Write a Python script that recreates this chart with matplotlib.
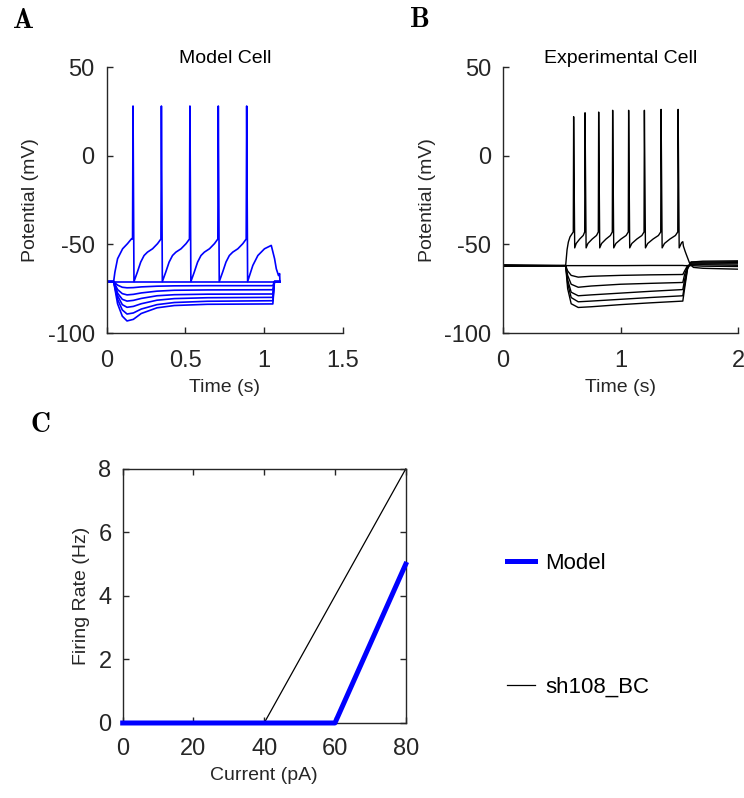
import matplotlib.pyplot as plt
import numpy as np

plt.rcParams['font.family'] = ['Liberation Sans', 'DejaVu Sans']
plt.rcParams['axes.unicode_minus'] = False

# ---------------- panel A : model cell ----------------
model_rest = -71
model_spike_times = [0.165, 0.345, 0.526, 0.706, 0.886]
model_spike_peaks = [28, 28, 28, 28, 28]
model_reset_v = -71
# membrane between reset and next spike (fraction of interval, mV)
model_isi_phase = [0, 0.125, 0.25, 0.375, 0.5, 0.69, 0.875, 1.0]
model_isi_v = [-71, -65.7, -60, -56.3, -54.4, -52.5, -49.6, -47]
# onset of the step up to the first spike
model_first_t = [0, 0.045, 0.053, 0.07, 0.102, 0.133, 0.159, 0.165]
model_first_v = [-71, -71, -65.7, -58.1, -52.5, -49.6, -46.8, -47]
# after the last spike until the end of the sweep
model_tail_t = [0.928, 0.96, 1.002, 1.045, 1.066, 1.077, 1.091, 1.098, 1.1]
model_tail_v = [-61.9, -56.3, -52.5, -50.6, -58.1, -63.8, -67.6, -66.5, -71]

model_hyp_t = [0, 0.045, 0.07, 0.10, 0.13, 0.17, 0.22, 0.32, 0.43, 0.64, 1.055, 1.065, 1.1]
model_hyp_v = [
    [-71, -71, -73.0, -74.2, -74.5, -74.4, -74.0, -73.6, -73.4, -73.3, -73.3, -71, -71],
    [-71, -71, -75.5, -77.8, -78.5, -78.2, -77.4, -76.4, -75.9, -75.7, -75.6, -71, -71],
    [-71, -71, -77.5, -81.0, -82.0, -81.6, -80.5, -79.0, -78.4, -78.1, -78.0, -71, -71],
    [-71, -71, -79.0, -84.0, -85.5, -85.0, -83.5, -81.5, -80.6, -80.1, -79.9, -71, -71],
    [-71, -71, -81.0, -87.0, -89.3, -88.7, -86.5, -84.0, -82.8, -82.1, -81.8, -71, -71],
    [-71, -71, -83.5, -90.5, -93.2, -92.3, -89.0, -85.8, -84.5, -83.8, -83.6, -71, -71],
]
model_flat_t = [0, 1.1]
model_flat_v = [-71, -71]

# ---------------- panel B : experimental cell ----------------
exp_spike_times = [0.598, 0.695, 0.811, 0.930, 1.066, 1.200, 1.342, 1.487]
exp_spike_peaks = [22, 24.2, 24.6, 25.6, 25.6, 25.6, 26.1, 26.1]
exp_reset_v = -52
exp_isi_phase = [0, 0.15, 0.5, 0.85, 1.0]
exp_isi_v = [-52, -49.5, -47, -45, -43]
exp_first_t = [0, 0.3, 0.533, 0.545, 0.556, 0.57, 0.598]
exp_first_v = [-61.8, -62.2, -62, -53, -48.7, -45.8, -43]
exp_tail_t = [1.52, 1.53, 1.535, 1.55, 1.563, 1.59, 1.62, 1.7, 2.0]
exp_tail_v = [-49, -48.5, -51, -54, -56.3, -61, -63, -63.5, -64]

exp_hyp_t = [0, 0.533, 0.55, 0.58, 0.64, 0.75, 1.0, 1.25, 1.53, 1.545, 1.57, 1.6, 1.7, 2.0]
exp_hyp_v = [
    [-61.8, -62, -62, -62, -62, -62, -62, -61.9, -61.9, -62, -62, -62, -62.3, -62.5],
    [-62.2, -62, -65, -67.5, -68.5, -68, -67.5, -67.2, -67, -65, -62, -61.5, -61.5, -61.8],
    [-61.6, -62, -67.5, -72.5, -74.2, -73.5, -72.5, -72, -71.5, -67, -62.5, -61, -61, -61],
    [-62.4, -62, -70, -77, -79, -78.5, -77.5, -76.5, -75.5, -70, -63, -60.5, -60.5, -60.3],
    [-61.9, -62, -72, -80, -82.4, -82, -81, -80, -79, -73, -63.5, -60, -60, -59.8],
    [-62.1, -62, -75, -83.5, -85.6, -85.2, -84, -83, -82, -75, -64, -60, -59.5, -59.3],
]

# ---------------- panel C : f-I curve ----------------
current_pA = [0, 20, 40, 60, 80]
rate_model = [0, 0, 0, 0, 5]
rate_exp = [0, 0, 0, 4, 8]


def spiking_trace(first_t, first_v, spikes, peaks, reset_v, reset_dt,
                  isi_phase, isi_v, tail_t, tail_v):
    t = list(first_t)
    v = list(first_v)
    for i, ts in enumerate(spikes):
        t += [ts + 0.003, ts + reset_dt]
        v += [peaks[i], reset_v]
        if i + 1 < len(spikes):
            t0 = ts + reset_dt
            t1 = spikes[i + 1]
            t += [t0 + p * (t1 - t0) for p in isi_phase[1:]]
            v += isi_v[1:]
    t += tail_t
    v += tail_v
    return t, v


ink = '#262626'
tick_fs = 17
label_fs = 14

fig = plt.figure(figsize=(7.44, 7.98), dpi=100)


def style_axes(ax, box=False):
    for side in ['left', 'bottom', 'top', 'right']:
        ax.spines[side].set_color(ink)
        ax.spines[side].set_linewidth(1.0)
    if not box:
        ax.spines['top'].set_visible(False)
        ax.spines['right'].set_visible(False)
    ax.tick_params(direction='in', length=4, width=1.0, color=ink,
                   labelcolor=ink, labelsize=tick_fs,
                   top=box, right=box)
    ax.tick_params(axis='x', pad=12)
    ax.tick_params(axis='y', pad=8.5)


# A
axA = fig.add_axes([0.1432, 0.5827, 0.3178, 0.3333])
for vv in model_hyp_v:
    axA.plot(model_hyp_t, vv, color='#0000ff', lw=1.2)
axA.plot(model_flat_t, model_flat_v, color='#0000ff', lw=1.2)
st, sv = spiking_trace(model_first_t, model_first_v, model_spike_times,
                       model_spike_peaks, model_reset_v, 0.009,
                       model_isi_phase, model_isi_v, model_tail_t, model_tail_v)
axA.plot(st, sv, color='#0000ff', lw=1.2)
axA.set_xlim(0, 1.5)
axA.set_ylim(-100, 50)
axA.set_xticks([0, 0.5, 1, 1.5])
axA.set_xticklabels(['0', '0.5', '1', '1.5'])
axA.set_yticks([-100, -50, 0, 50])
style_axes(axA)
axA.set_xlabel('Time (s)', fontsize=label_fs, color=ink, labelpad=5)
axA.set_ylabel('Potential (mV)', fontsize=label_fs, color=ink, labelpad=6)
axA.set_title('Model Cell', fontsize=label_fs, color='black', pad=1)

# B
axB = fig.add_axes([0.6761, 0.5827, 0.3159, 0.3333])
for vv in exp_hyp_v:
    axB.plot(exp_hyp_t, vv, color='black', lw=1.0)
et, ev = spiking_trace(exp_first_t, exp_first_v, exp_spike_times,
                       exp_spike_peaks, exp_reset_v, 0.012,
                       exp_isi_phase, exp_isi_v, exp_tail_t, exp_tail_v)
axB.plot(et, ev, color='black', lw=1.0)
axB.set_xlim(0, 2)
axB.set_ylim(-100, 50)
axB.set_xticks([0, 1, 2])
axB.set_yticks([-100, -50, 0, 50])
style_axes(axB)
axB.set_xlabel('Time (s)', fontsize=label_fs, color=ink, labelpad=5)
axB.set_ylabel('Potential (mV)', fontsize=label_fs, color=ink, labelpad=6)
axB.set_title('Experimental Cell', fontsize=label_fs, color='black', pad=1)

# C
axC = fig.add_axes([0.1649, 0.0940, 0.3804, 0.3183])
axC.plot(current_pA, rate_model, color='#0000ff', lw=3.6, label='Model',
         clip_on=False, zorder=3)
axC.plot(current_pA, rate_exp, color='black', lw=0.9, label='sh108_BC',
         clip_on=False)
axC.set_xlim(0, 80)
axC.set_ylim(0, 8)
axC.set_xticks([0, 20, 40, 60, 80])
axC.set_yticks([0, 2, 4, 6, 8])
style_axes(axC, box=True)
axC.tick_params(axis='x', pad=11)
axC.tick_params(axis='y', pad=8)
axC.set_xlabel('Current (pA)', fontsize=label_fs, color=ink, labelpad=5)
axC.set_ylabel('Firing Rate (Hz)', fontsize=label_fs, color=ink, labelpad=6)
axC.legend(loc='center left', bbox_to_anchor=(507 / 744, 1 - 625.5 / 798),
           bbox_transform=fig.transFigure, frameon=False, fontsize=16,
           borderpad=0, borderaxespad=0, handlelength=1.26,
           handletextpad=0.45, labelspacing=4.65)

# panel letters
for letter, x, y in [('A', 13 / 744, 1 - 28 / 798), ('B', 410 / 744, 1 - 27 / 798),
                     ('C', 30 / 744, 1 - 432 / 798)]:
    fig.text(x, y, letter, fontfamily='cmb10', fontsize=20, color='black')

fig.savefig('out.png', dpi=100)
